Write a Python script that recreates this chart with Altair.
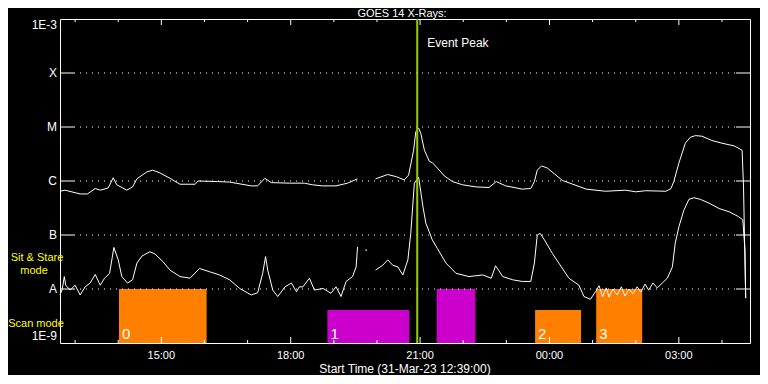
import altair as alt
import pandas as pd

FONT = "Liberation Sans"

# Time: minutes after start (31-Mar-23 12:39:00); flux as log10(W/m^2)
up_min = [0, 7, 28, 38, 49, 56, 67, 74, 79, 93, 101, 107, 121, 129, 139, 153, 167, 188, 192, 219, 236,
          266, 275, 285, 294, 319, 340, 351, 365, 384, 400, 414,
          439, 456, 468, 479, 485, 492, 495, 499, 502, 507, 514, 518, 525, 535, 546, 560, 579, 597, 607,
          620, 643, 655, 660, 664, 670, 678, 699, 732, 759, 787, 801, 815, 843, 850, 854, 861, 870, 877,
          884, 893, 907, 921, 938, 949, 951, 954]
up_log = [-6.19, -6.17, -6.24, -6.24, -6.14, -6.17, -6.13, -5.94, -6.07, -6.17, -6.11, -5.96, -5.83, -5.80,
          -5.85, -5.95, -6.06, -6.06, -6.00, -6.01, -6.02,
          -6.09, -6.09, -5.95, -6.03, -6.04, -6.04, -6.07, -6.09, -6.09, -6.04, -5.96,
          -5.96, -5.88, -5.92, -5.98, -5.89, -5.43, -5.09, -5.02, -5.12, -5.43, -5.64, -5.66, -5.76, -5.91,
          -6.01, -6.07, -6.11, -6.12, -6.01,
          -6.09, -6.15, -6.14, -6.01, -5.80, -5.72, -5.76, -5.99, -6.15, -6.19, -6.17, -6.20, -6.18, -6.19,
          -6.14, -6.01, -5.67, -5.30, -5.19,
          -5.16, -5.17, -5.25, -5.30, -5.35, -5.43, -6.11, -8.17]
up_gap_at = 32  # first point after the data gap

lo_min = [0, 3, 6, 8, 14, 21, 28, 35, 42, 49, 56, 62, 69, 75, 81, 86, 94, 101, 107, 114, 125, 132, 143,
          153, 167, 181, 194, 208, 222, 236, 250, 266, 275, 282, 286, 289, 296, 303, 313, 322, 329, 333,
          338, 347, 354, 366, 377, 384, 391, 398, 407, 412, 414,
          439, 449, 456, 463, 470, 477, 484, 488, 493, 499, 505, 509, 518, 525, 537, 551, 569, 588, 600,
          606, 616, 630, 643, 655, 660, 664, 668, 674, 685, 694, 708, 722, 729, 738, 745, 750, 755, 760,
          764, 769, 775, 781, 786, 792, 797, 803, 808, 814, 819, 825, 831, 838, 845, 852, 856, 861, 868,
          875, 882, 891, 903, 917, 931, 944, 950, 953, 954]
lo_log = [-8.11, -8.01, -7.77, -7.93, -8.02, -7.93, -8.11, -7.96, -7.89, -7.73, -7.93, -7.80, -7.71, -7.23,
          -7.46, -7.77, -7.89, -7.83, -7.52, -7.39, -7.31, -7.35, -7.49,
          -7.65, -7.77, -7.80, -7.62, -7.68, -7.74, -7.83, -7.99, -8.11, -8.07, -7.71, -7.40, -7.65, -8.02,
          -8.14, -7.96, -7.89, -8.05, -7.96,
          -7.96, -7.80, -8.02, -7.99, -8.08, -7.96, -8.14, -7.86, -7.77, -7.59, -7.22,
          -7.65, -7.56, -7.46, -7.56, -7.59, -7.74, -7.46, -6.97, -6.04, -5.93, -6.48, -6.78, -7.09, -7.25,
          -7.52, -7.71, -7.77, -7.74, -7.80,
          -7.57, -7.77, -7.83, -7.86, -7.86, -7.52, -7.00, -6.97, -7.09, -7.34, -7.52, -7.80, -7.93, -8.14,
          -8.19, -8.05, -7.94, -8.14, -7.98,
          -8.15, -8.00, -8.11, -7.96, -8.13, -8.00, -8.09, -7.96, -8.06, -7.91, -8.02, -7.89, -7.98, -7.89,
          -7.80, -7.59, -7.15, -6.85, -6.54,
          -6.34, -6.31, -6.34, -6.41, -6.51, -6.57, -6.66, -6.72, -7.28, -8.17]
lo_gap_at = 53

dot_min = [426]
dot_log = [-7.28]

box_start = [82, 372, 524, 661, 746]
box_end = [204, 486, 578, 725, 810]
box_top = [-8.0, -8.39, -8.0, -8.39, -8.0]
box_color = ["#FF8000", "#CC00CC", "#CC00CC", "#FF8000", "#FF8000"]
box_label = ["0", "1", "", "2", "3"]

event_peak = [497]

level_vals = [-9, -8, -7, -6, -5, -4, -3]
level_labels = ["1E-9", "A", "B", "C", "M", "X", "1E-3"]
grid_levels = [-8, -7, -6, -5, -4]

minor_ticks = [21, 81, 201, 261, 381, 441, 561, 621, 741, 801, 921]
major_ticks = [141, 321, 501, 681, 861]
major_labels = ["15:00", "18:00", "21:00", "00:00", "03:00"]

W, H = 690, 324

up_df = pd.DataFrame({"m": up_min, "f": up_log})
up_df["seg"] = (up_df.index >= up_gap_at).astype(int)
lo_df = pd.DataFrame({"m": lo_min, "f": lo_log})
lo_df["seg"] = (lo_df.index >= lo_gap_at).astype(int)
dot_df = pd.DataFrame({"m": dot_min, "f": dot_log})
box_df = pd.DataFrame({"s": box_start, "e": box_end, "top": box_top, "c": box_color, "lab": box_label})
box_df["bot"] = -9
ev_df = pd.DataFrame({"m": event_peak, "t": ["Event Peak"]})
grid_df = pd.DataFrame({"lev": grid_levels})
minor_df = pd.DataFrame({"m": minor_ticks})
major_df = pd.DataFrame({"m": major_ticks})
ylab_df = pd.DataFrame({"lev": level_vals, "lab": level_labels})
xlab_df = pd.DataFrame({"m": major_ticks, "lab": major_labels})

xs = alt.Scale(domain=[0, 960], nice=False, zero=False)
ys = alt.Scale(domain=[-9, -3], nice=False, zero=False)

X = lambda f: alt.X(f, scale=xs, axis=None)
Y = lambda f: alt.Y(f, scale=ys, axis=None)

boxes = alt.Chart(box_df).mark_rect().encode(
    x=X("s:Q"), x2="e:Q", y=Y("top:Q"), y2="bot:Q",
    color=alt.Color("c:N", scale=None),
)
box_text = alt.Chart(box_df).mark_text(align="left", baseline="bottom", dx=3, dy=-1, color="white",
                                       font=FONT, fontSize=15).encode(
    x=X("s:Q"), y=Y("bot:Q"), text="lab:N")

grid = alt.Chart(grid_df).mark_rule(color="white", strokeDash=[1, 5], strokeWidth=1).encode(
    y=Y("lev:Q"), x=alt.value(14), x2=alt.value(W - 14))
lt = alt.Chart(grid_df).mark_rule(color="white").encode(y=Y("lev:Q"), x=alt.value(0), x2=alt.value(14))
rt = alt.Chart(grid_df).mark_rule(color="white").encode(y=Y("lev:Q"), x=alt.value(W - 14), x2=alt.value(W))


def xticks(df, y1, y2):
    return alt.Chart(df).mark_rule(color="white").encode(x=X("m:Q"), y=alt.value(y1), y2=alt.value(y2))


ticks = [xticks(minor_df, H, H - 3), xticks(major_df, H, H - 6),
         xticks(minor_df, 0, 3), xticks(major_df, 0, 6)]

# axis labels as text marks placed through the scales
ylabels = alt.Chart(ylab_df).mark_text(align="right", dx=-3, color="white", font=FONT, fontSize=12).encode(
    x=alt.value(0), y=Y("lev:Q"), text="lab:N")
ylab_mid = ylabels.transform_filter("datum.lev > -9 && datum.lev < -3").mark_text(
    align="right", baseline="middle", dx=-3, color="white", font=FONT, fontSize=12)
ylab_top = ylabels.transform_filter("datum.lev == -3").mark_text(
    align="right", baseline="top", dx=-3, dy=1, color="white", font=FONT, fontSize=12)
ylab_bot = ylabels.transform_filter("datum.lev == -9").mark_text(
    align="right", baseline="bottom", dx=-3, color="white", font=FONT, fontSize=12)

xlabels = alt.Chart(xlab_df).mark_text(align="center", baseline="middle", color="white",
                                       font=FONT, fontSize=11).encode(
    x=X("m:Q"), y=alt.value(H + 13), text="lab:N")
xtitle = alt.Chart(pd.DataFrame({"t": ["Start Time (31-Mar-23 12:39:00)"]})).mark_text(
    align="center", baseline="middle", color="white", font=FONT, fontSize=12).encode(
    x=alt.value(W / 2), y=alt.value(H + 26), text="t:N")
title = alt.Chart(pd.DataFrame({"t": ["GOES 14 X-Rays:"]})).mark_text(
    align="center", baseline="top", color="white", font=FONT, fontSize=11).encode(
    x=alt.value(W / 2 - 3), y=alt.value(-11), text="t:N")

up_line = alt.Chart(up_df).mark_line(color="white", strokeWidth=1).encode(
    x=X("m:Q"), y=Y("f:Q"), detail="seg:N")
lo_line = alt.Chart(lo_df).mark_line(color="white", strokeWidth=1).encode(
    x=X("m:Q"), y=Y("f:Q"), detail="seg:N")
dot = alt.Chart(dot_df).mark_square(color="white", size=2, opacity=1).encode(x=X("m:Q"), y=Y("f:Q"))

ev_line = alt.Chart(ev_df).mark_rule(color="#99CC00", strokeWidth=2).encode(x=X("m:Q"))
ev_text = alt.Chart(ev_df).mark_text(align="left", baseline="middle", dx=10, color="white",
                                     font=FONT, fontSize=12).encode(
    x=X("m:Q"), y=alt.value(24), text="t:N")


def side_text(t, x, y):
    return alt.Chart(pd.DataFrame({"t": [t]})).mark_text(
        align="center", baseline="middle", color="#FFFF00", font=FONT, fontSize=11).encode(
        x=alt.value(x), y=alt.value(y), text="t:N")


side = [side_text("Sit & Stare", -23, 239), side_text("mode", -26, 252), side_text("Scan mode", -24, 305)]

chart = alt.layer(boxes, grid, lt, rt, *ticks, box_text, up_line, lo_line, dot, ev_line, ev_text,
                  ylab_mid, ylab_top, ylab_bot, xlabels, xtitle, title, *side).properties(
    width=W, height=H,
    autosize="none",
    padding={"left": 52, "top": 11, "right": 10, "bottom": 32},
    background="black",
).configure_view(stroke="white", strokeWidth=1)

chart.save("out.html", embed_options={"renderer": "svg", "actions": False})
